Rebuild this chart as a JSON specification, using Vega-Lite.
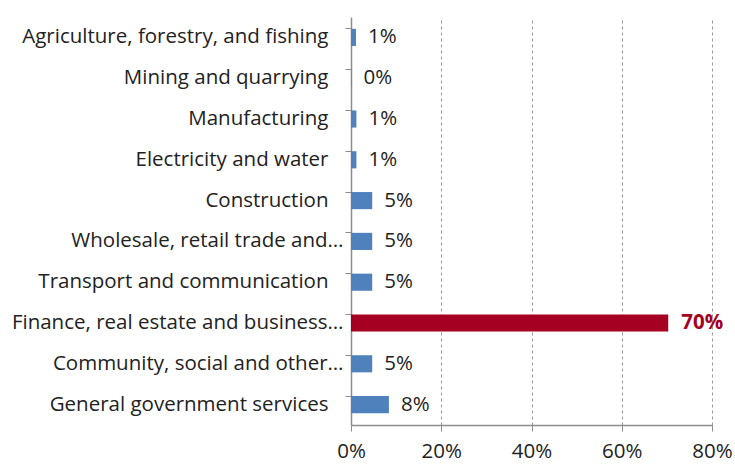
{
  "$schema": "https://vega.github.io/schema/vega-lite/v6.json",
  "width": 361,
  "height": 408,
  "autosize": {"type": "none"},
  "padding": {"left": 351, "top": 17, "right": 23, "bottom": 40},
  "background": "white",
  "config": {
    "view": {"stroke": null},
    "font": "Open Sans",
    "axis": {"labelFont": "Open Sans", "labelFontSize": 20.5, "labelColor": "#222222", "domainColor": "#8c8c8c", "tickColor": "#8c8c8c"}
  },
  "data": {
    "values": [
      {"sector": "Agriculture, forestry,  and fishing", "share": 0.011},
      {"sector": "Mining and quarrying", "share": 0.001},
      {"sector": "Manufacturing", "share": 0.012},
      {"sector": "Electricity and water", "share": 0.012},
      {"sector": "Construction", "share": 0.047},
      {"sector": "Wholesale, retail trade and…", "share": 0.047},
      {"sector": "Transport and communication", "share": 0.047},
      {"sector": "Finance, real estate and business…", "share": 0.703},
      {"sector": "Community, social and other…", "share": 0.047},
      {"sector": "General government services", "share": 0.084}
    ]
  },
  "encoding": {
    "y": {
      "field": "sector", "type": "nominal", "sort": null, "title": null,
      "scale": {"paddingInner": 0.58, "paddingOuter": 0.29},
      "axis": {
        "bandPosition": 0, "tickSize": 6,
        "labelPadding": {"condition": {"test": "indexof(datum.value, '…') >= 0", "value": 2}, "value": 17},
        "labelLimit": 400, "grid": false, "domainWidth": 1.5
      }
    },
    "x": {
      "field": "share", "type": "quantitative", "title": null,
      "scale": {"domain": [0, 0.8], "nice": false},
      "axis": {"values": [0, 0.2, 0.4, 0.6, 0.8], "format": ".0%", "tickSize": 6, "labelPadding": 10, "labelFlush": false, "grid": true, "gridDash": [3, 3], "gridColor": "#9a9a9a", "domainWidth": 1.5}
    }
  },
  "layer": [
    {
      "mark": {"type": "bar"},
      "encoding": {
        "color": {
          "condition": {"test": "datum.share > 0.5", "value": "#A50021"},
          "value": "#4F81BD"
        }
      }
    },
    {
      "transform": [{"filter": "datum.share <= 0.5"}],
      "mark": {"type": "text", "align": "left", "dx": 12, "fontSize": 20.5, "font": "Open Sans", "color": "#222222"},
      "encoding": {"text": {"field": "share", "type": "quantitative", "format": ".0%"}}
    },
    {
      "transform": [{"filter": "datum.share > 0.5"}],
      "mark": {"type": "text", "align": "left", "dx": 13, "fontSize": 20.5, "font": "Open Sans", "fontWeight": "bold", "color": "#A50021"},
      "encoding": {"text": {"field": "share", "type": "quantitative", "format": ".0%"}}
    }
  ]
}
